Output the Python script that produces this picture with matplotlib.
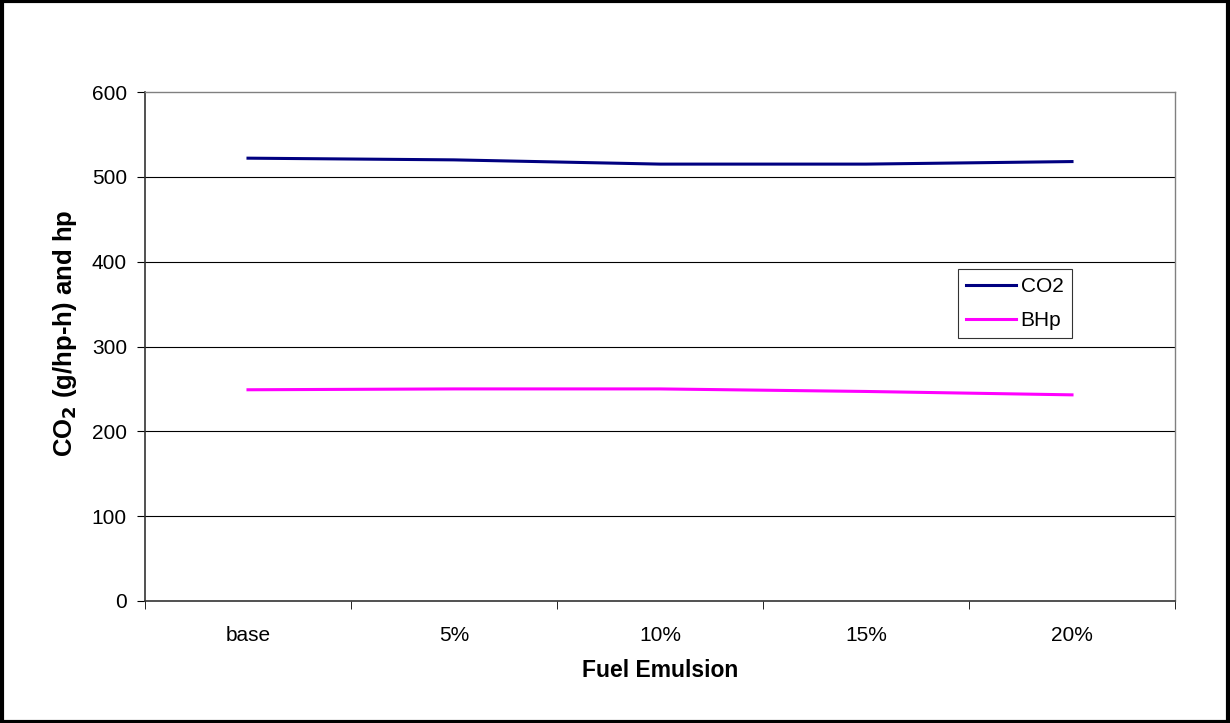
import matplotlib
matplotlib.use("Agg")
import matplotlib.pyplot as plt
from matplotlib.patches import Rectangle

plt.rcParams['font.family'] = ['Liberation Sans', 'DejaVu Sans']

categories = ["base", "5%", "10%", "15%", "20%"]
co2 = [522, 520, 515, 515, 518]
bhp = [249, 250, 250, 247, 243]
y_ticks = [0, 100, 200, 300, 400, 500, 600]

fig = plt.figure(figsize=(12.3, 7.23), dpi=100)
fig.patches.append(Rectangle((0.0015, 0.002), 0.997, 0.996, transform=fig.transFigure,
                             fill=False, edgecolor="black", linewidth=3))

ax = fig.add_axes([145 / 1230, 1 - 601 / 723, 1030 / 1230, 509 / 723])
x = list(range(len(categories)))
ax.plot(x, co2, color="#000080", linewidth=2.2, label="CO2", zorder=3)
ax.plot(x, bhp, color="#FF00FF", linewidth=2.2, label="BHp", zorder=3)

ax.set_xlim(-0.5, len(categories) - 0.5)
ax.set_ylim(0, 600)
ax.set_yticks(y_ticks)
ax.set_xticks(x)
ax.set_xticklabels(categories)
ax.set_xticks([i - 0.5 for i in range(len(categories) + 1)], minor=True)
ax.tick_params(axis="x", which="major", length=0, pad=18, labelsize=15)
ax.tick_params(axis="x", which="minor", length=6, direction="out", color="black")
ax.tick_params(axis="y", length=6, direction="out", labelsize=15, pad=7)

for v in y_ticks[1:-1]:
    ax.axhline(v, color="black", linewidth=0.8, zorder=1)

for side in ["top", "right"]:
    ax.spines[side].set_color("#808080")
    ax.spines[side].set_linewidth(1)
for side in ["left", "bottom"]:
    ax.spines[side].set_color("#333333")
    ax.spines[side].set_linewidth(1.2)

ax.set_xlabel("Fuel Emulsion", fontsize=16.5, fontweight="bold", labelpad=10)
ax.set_ylabel("CO$_\\mathbf{2}$ (g/hp-h) and hp", fontsize=18.5, fontweight="bold")
ax.yaxis.set_label_coords(-0.064, 0.527)

leg = ax.legend(loc="upper left", bbox_to_anchor=((958 - 145) / 1030, (601 - 269) / 509),
                frameon=True, fancybox=False, edgecolor="black", fontsize=15,
                handlelength=2.4, handletextpad=0.2, borderpad=0.4, labelspacing=0.7,
                borderaxespad=0)
leg.get_frame().set_linewidth(0.8)

fig.savefig("out.png", dpi=100)
